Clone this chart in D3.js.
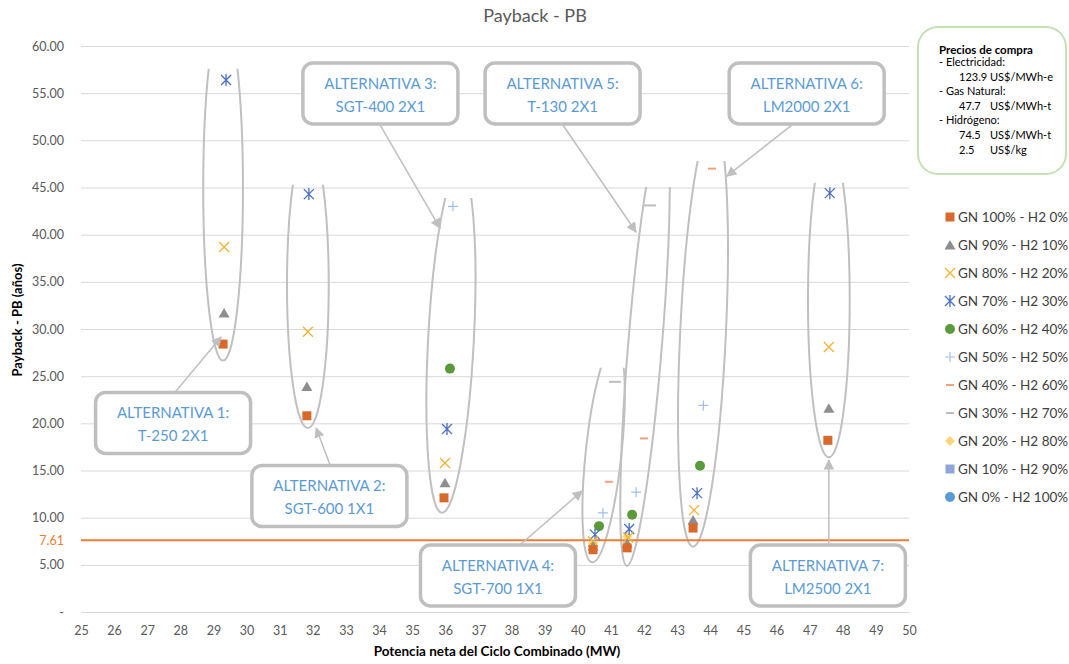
<!DOCTYPE html>
<html>
<head>
<meta charset="utf-8">
<title>Payback - PB</title>
<script src="https://cdn.jsdelivr.net/npm/d3@7"></script>
<style>
body { margin: 0; background: #fff; }
text { font-family: Lato, "Open Sans", sans-serif; }
</style>
</head>
<body>
<svg id="chart" width="1069" height="664"></svg>
<script>
// series names (legend order)
const seriesNames = ["GN 100% - H2 0%", "GN 90% - H2 10%", "GN 80% - H2 20%", "GN 70% - H2 30%",
  "GN 60% - H2 40%", "GN 50% - H2 50%", "GN 40% - H2 60%", "GN 30% - H2 70%",
  "GN 20% - H2 80%", "GN 10% - H2 90%", "GN 0% - H2 100%"];

// potencia neta (MW) / payback (años) per series
const x_gn100 = [29.29, 31.82, 35.96, 40.46, 41.49, 43.48, 47.55];
const y_gn100 = [28.4, 20.8, 12.1, 6.6, 6.8, 8.9, 18.2];
const x_gn90 = [29.32, 31.82, 35.99, 40.46, 41.49, 43.48, 47.58];
const y_gn90 = [31.7, 23.9, 13.7, 7.0, 7.3, 9.75, 21.6];
const x_gn80 = [29.32, 31.85, 35.99, 40.46, 41.52, 43.51, 47.58];
const y_gn80 = [38.7, 29.7, 15.8, 7.5, 7.9, 10.8, 28.1];
const x_gn70 = [29.38, 31.88, 36.05, 40.52, 41.55, 43.6, 47.61];
const y_gn70 = [56.4, 44.3, 19.4, 8.2, 8.8, 12.6, 44.4];
const x_gn60 = [36.14, 40.64, 41.64, 43.69];
const y_gn60 = [25.8, 9.1, 10.3, 15.5];
const x_gn50 = [36.23, 40.76, 41.76, 43.79];
const y_gn50 = [43.0, 10.5, 12.7, 21.9];
const x_gn40 = [40.94, 42.0, 44.05];
const y_gn40 = [13.8, 18.4, 47.0];
const x_gn30 = [41.12, 42.18];
const y_gn30 = [24.4, 43.1];
const x_gn20 = [40.46, 41.49];
const y_gn20 = [7.3, 8.0];
const x_gn10 = [];
const y_gn10 = [];
const x_gn0 = [];
const y_gn0 = [];

const seriesX = [x_gn100, x_gn90, x_gn80, x_gn70, x_gn60, x_gn50, x_gn40, x_gn30, x_gn20, x_gn10, x_gn0];
const seriesY = [y_gn100, y_gn90, y_gn80, y_gn70, y_gn60, y_gn50, y_gn40, y_gn30, y_gn20, y_gn10, y_gn0];
const markerTypes = ["square", "triangle", "x", "asterisk", "circle", "plus", "dash", "longdash", "diamond", "square", "circle"];
const colors = ["#d9692a", "#8e8e8e", "#f2b233", "#4a6fc4", "#5b9a3a", "#9ec0e8", "#f3a07e", "#bdbdbd", "#ffd57a", "#8fa6d8", "#5b9bd5"];

const yTicks = [0, 5, 10, 15, 20, 25, 30, 35, 40, 45, 50, 55, 60];
const xTicks = d3.range(25, 51);
const refValue = 7.61;

// alternatives: callout texts
const altTitles = ["ALTERNATIVA 1:", "ALTERNATIVA 2:", "ALTERNATIVA 3:", "ALTERNATIVA 4:", "ALTERNATIVA 5:", "ALTERNATIVA 6:", "ALTERNATIVA 7:"];
const altModels = ["T-250 2X1", "SGT-600 1X1", "SGT-400 2X1", "SGT-700 1X1", "T-130 2X1", "LM2000 2X1", "LM2500 2X1"];
// callout box centers (data units)
const boxX = [27.78, 32.50, 34.04, 37.59, 39.54, 46.91, 47.55];
const boxY = [20.04, 12.3, 54.97, 3.87, 54.97, 54.97, 3.87];
// arrows (data units)
const arrFromX = [27.84, 32.52, 34.03, 38.25, 39.55, 46.47, 47.58];
const arrFromY = [23.3, 15.58, 51.63, 7.1, 51.63, 51.63, 7.1];
const arrToX = [29.23, 32.10, 35.84, 40.13, 41.76, 44.5, 47.58];
const arrToY = [29.15, 19.5, 40.7, 12.83, 40.28, 46.2, 16.1];
// group ellipses (data units), open at the top
const ellCx = [29.29, 31.85, 36.17, 40.78, 42.03, 43.78, 47.58];
const ellCy = [44.95, 34.7, 28.8, 16.9, 28.3, 29.5, 33.1];
const ellRx = [0.60, 0.63, 0.69, 0.54, 0.51, 0.69, 0.63];
const ellRy = [18.3, 15.2, 18.3, 11.7, 23.5, 22.6, 16.7];
const ellRot = [0, 0, 3, 6, 4.7, 2.7, 0];
const ellCut = [57.6, 45.3, 43.9, 25.9, 45.05, 47.8, 45.5];

const priceLabels = ["- Electricidad:", "- Gas Natural:", "- Hidrógeno:"];
const priceValues = [["123.9", "US$/MWh-e"], ["47.7", "US$/MWh-t"], ["74.5", "US$/MWh-t"], ["2.5", "US$/kg"]];

const svg = d3.select("#chart");
const W = 1069, H = 664;
const x = d3.scaleLinear().domain([25, 50]).range([81, 909]);
const y = d3.scaleLinear().domain([0, 60]).range([612, 46]);

const defs = svg.append("defs");
defs.append("marker").attr("id", "arrow")
  .attr("viewBox", "0 0 10 10").attr("refX", 9).attr("refY", 5)
  .attr("markerWidth", 7).attr("markerHeight", 7).attr("orient", "auto")
  .attr("markerUnits", "strokeWidth")
  .append("path").attr("d", "M0,0 L10,5 L0,10 z").attr("fill", "#bfbfbf");

// title
svg.append("text").attr("x", 535).attr("y", 22).attr("text-anchor", "middle")
  .attr("font-size", 18).attr("fill", "#595959").text("Payback - PB");

// y grid + labels
const yAxis = svg.append("g").attr("transform", "translate(81,0)")
  .call(d3.axisLeft(y).tickValues(yTicks).tickSize(-(909 - 81)).tickPadding(17)
    .tickFormat(d => d === 0 ? "-" : d.toFixed(2)));
yAxis.select(".domain").remove();
yAxis.selectAll("line").attr("stroke", "#d9d9d9").attr("stroke-width", 1)
  .filter(d => d === 0).remove();
yAxis.selectAll("text").attr("font-size", 12.5).attr("fill", "#595959")
  .attr("font-family", "Lato, sans-serif");

// x axis
const xAxis = svg.append("g").attr("transform", "translate(0,612)")
  .call(d3.axisBottom(x).tickValues(xTicks).tickSize(0).tickPadding(14).tickFormat(d3.format("d")));
xAxis.select(".domain").attr("stroke", "#d9d9d9");
xAxis.selectAll("text").attr("font-size", 12.5).attr("fill", "#595959")
  .attr("font-family", "Lato, sans-serif");

// axis titles
svg.append("text").attr("transform", "translate(22,320) rotate(-90)").attr("text-anchor", "middle")
  .attr("font-size", 13).attr("font-weight", "bold").attr("fill", "#000")
  .text("Payback - PB (años)");
svg.append("text").attr("x", 497).attr("y", 656).attr("text-anchor", "middle")
  .attr("font-size", 13.5).attr("font-weight", "bold").attr("fill", "#000")
  .text("Potencia neta del Ciclo Combinado (MW)");

// ellipses
ellCx.forEach((cx, i) => {
  defs.append("clipPath").attr("id", "clip" + i)
    .append("rect").attr("x", 0).attr("y", y(ellCut[i])).attr("width", W).attr("height", H);
  const px = x(cx), py = y(ellCy[i]);
  svg.append("g").attr("clip-path", `url(#clip${i})`)
    .append("ellipse")
    .attr("cx", 0).attr("cy", 0)
    .attr("rx", x(cx + ellRx[i]) - px).attr("ry", y(0) - y(ellRy[i]))
    .attr("transform", `translate(${px},${py}) rotate(${ellRot[i]})`)
    .attr("fill", "none").attr("stroke", "#c0c0c0").attr("stroke-width", 2);
});

// reference line
svg.append("line").attr("x1", x(25)).attr("x2", x(50)).attr("y1", y(refValue)).attr("y2", y(refValue))
  .attr("stroke", "#ed7d31").attr("stroke-width", 2);
svg.append("text").attr("x", 64).attr("y", y(refValue)).attr("dy", "0.35em").attr("text-anchor", "end")
  .attr("font-size", 12.5).attr("fill", "#ed7d31").text(refValue.toFixed(2));

// marker drawing
function drawMarker(g, type, color) {
  switch (type) {
    case "square":
      g.append("rect").attr("x", -4.5).attr("y", -4.5).attr("width", 9).attr("height", 9).attr("fill", color); break;
    case "triangle":
      g.append("path").attr("d", "M0,-5 L5.5,4.5 L-5.5,4.5 Z").attr("fill", color); break;
    case "x":
      g.append("path").attr("d", "M-5,-5 L5,5 M-5,5 L5,-5").attr("stroke", color).attr("stroke-width", 1.3).attr("fill", "none"); break;
    case "asterisk":
      g.append("path").attr("d", "M-5,-5 L5,5 M-5,5 L5,-5 M0,-6 L0,6").attr("stroke", color).attr("stroke-width", 1.3).attr("fill", "none"); break;
    case "circle":
      g.append("circle").attr("r", 5).attr("fill", color); break;
    case "plus":
      g.append("path").attr("d", "M-5,0 L5,0 M0,-5 L0,5").attr("stroke", color).attr("stroke-width", 1.2).attr("fill", "none"); break;
    case "dash":
      g.append("rect").attr("x", -4).attr("y", -1).attr("width", 8).attr("height", 2).attr("fill", color); break;
    case "longdash":
      g.append("rect").attr("x", -6).attr("y", -1).attr("width", 12).attr("height", 2).attr("fill", color); break;
    case "diamond":
      g.append("path").attr("d", "M0,-5 L5,0 L0,5 L-5,0 Z").attr("fill", color); break;
  }
}

// points (draw last series first so the first lies on top)
for (let s = seriesNames.length - 1; s >= 0; s--) {
  const pts = seriesX[s].map((v, i) => [v, seriesY[s][i]]);
  svg.append("g").selectAll("g").data(pts).join("g")
    .attr("transform", d => `translate(${x(d[0])},${y(d[1])})`)
    .each(function() { drawMarker(d3.select(this), markerTypes[s], colors[s]); });
}

// arrows
arrFromX.forEach((fx, i) => {
  svg.append("line")
    .attr("x1", x(fx)).attr("y1", y(arrFromY[i]))
    .attr("x2", x(arrToX[i])).attr("y2", y(arrToY[i]))
    .attr("stroke", "#bfbfbf").attr("stroke-width", 1.5).attr("marker-end", "url(#arrow)");
});

// callout boxes
const bw = 155, bh = 61;
boxX.forEach((bx, i) => {
  const cx = x(bx), cy = y(boxY[i]);
  const g = svg.append("g").attr("transform", `translate(${cx},${cy})`);
  g.append("rect").attr("x", -bw / 2).attr("y", -bh / 2).attr("width", bw).attr("height", bh)
    .attr("rx", 10).attr("fill", "#fff").attr("stroke", "#bfbfbf").attr("stroke-width", 3.5);
  g.append("text").attr("y", -10).attr("dy", "0.35em").attr("text-anchor", "middle")
    .attr("font-size", 15).attr("fill", "#5b9bd5").text(altTitles[i]);
  g.append("text").attr("y", 13).attr("dy", "0.35em").attr("text-anchor", "middle")
    .attr("font-size", 15).attr("fill", "#5b9bd5").text(altModels[i]);
});

// info box
const info = svg.append("g");
info.append("rect").attr("x", 918).attr("y", 27).attr("width", 148).attr("height", 147)
  .attr("rx", 20).attr("fill", "#fff").attr("stroke", "#c5e0b4").attr("stroke-width", 2);
info.append("text").attr("x", 939).attr("y", 54).attr("font-size", 11.5).attr("font-weight", "bold")
  .attr("fill", "#000").text("Precios de compra");
const infoLines = [
  [priceLabels[0], null], [null, priceValues[0]],
  [priceLabels[1], null], [null, priceValues[1]],
  [priceLabels[2], null], [null, priceValues[2]], [null, priceValues[3]]
];
infoLines.forEach((ln, i) => {
  const yy = 66 + i * 14.6;
  if (ln[0]) info.append("text").attr("x", 939).attr("y", yy).attr("font-size", 11).attr("fill", "#000").text(ln[0]);
  else {
    info.append("text").attr("x", 959).attr("y", yy).attr("font-size", 11).attr("fill", "#000").text(ln[1][0]);
    info.append("text").attr("x", 990).attr("y", yy).attr("font-size", 11).attr("fill", "#000").text(ln[1][1]);
  }
});

// legend
const legend = svg.append("g");
seriesNames.forEach((name, i) => {
  const ly = 217 + i * 28;
  const mg = legend.append("g").attr("transform", `translate(950,${ly})`);
  drawMarker(mg, markerTypes[i] === "longdash" ? "dash" : markerTypes[i], colors[i]);
  legend.append("text").attr("x", 958).attr("y", ly).attr("dy", "0.35em")
    .attr("font-size", 13.5).attr("fill", "#404040").text(name);
});
</script>
</body>
</html>
